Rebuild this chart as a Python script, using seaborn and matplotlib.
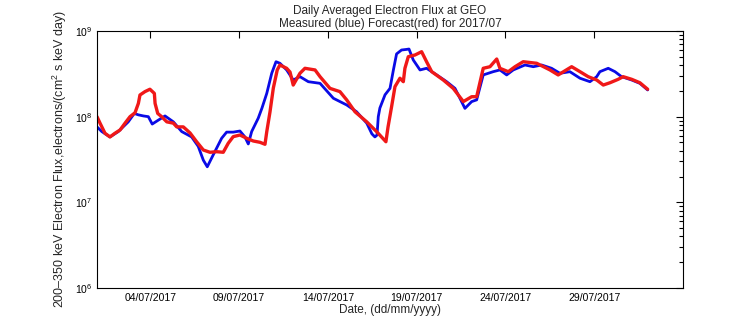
import numpy as np
import pandas as pd
import matplotlib
matplotlib.use("Agg")
import matplotlib.pyplot as plt
import matplotlib.dates as mdates
from matplotlib.ticker import LogLocator, NullFormatter
import seaborn as sns

# ---- data (day of month in July 2017, flux) ----
meas_day = [1.00, 1.27, 1.73, 2.20, 2.76, 3.10, 3.33, 3.61, 3.89, 4.11, 4.45, 4.83, 5.30, 5.77,
            6.33, 6.70, 6.99, 7.21, 7.55, 8.02, 8.30, 8.67, 9.05, 9.33, 9.52, 9.71, 10.08,
            10.29, 10.56, 10.84, 11.08, 11.30, 11.68, 12.05, 12.43, 12.90, 13.56, 14.31,
            15.06, 15.62, 16.19, 16.48, 16.65, 16.77, 16.84, 16.93, 17.22, 17.50, 17.69,
            17.87, 18.15, 18.44, 18.57, 18.81, 19.19, 19.56, 20.13, 20.69, 21.16, 21.72,
            22.10, 22.38, 22.75, 23.31, 23.69, 24.07, 24.44, 25.10, 25.57, 26.04, 26.60,
            27.07, 27.63, 28.20, 28.76, 29.14, 29.32, 29.79, 30.17, 30.54, 31.11, 31.57, 32.01]
meas_flux = [7.6e7, 6.7e7, 5.8e7, 6.7e7, 8.7e7, 1.09e8, 1.05e8, 1.02e8, 1.00e8, 8.2e7, 9.1e7,
             1.02e8, 8.7e7, 6.7e7, 5.8e7, 4.5e7, 3.1e7, 2.6e7, 3.6e7, 5.6e7, 6.6e7, 6.6e7,
             6.8e7, 5.8e7, 4.8e7, 6.7e7, 9.6e7, 1.26e8, 1.87e8, 3.21e8, 4.38e8, 4.20e8,
             3.51e8, 2.68e8, 2.93e8, 2.56e8, 2.45e8, 1.64e8, 1.37e8, 1.14e8, 8.4e7, 6.3e7,
             5.8e7, 6.1e7, 1.0e8, 1.26e8, 1.8e8, 2.14e8, 3.5e8, 5.4e8, 6.0e8, 6.1e8, 6.16e8,
             4.59e8, 3.51e8, 3.67e8, 3.07e8, 2.56e8, 2.14e8, 1.25e8, 1.50e8, 1.57e8, 3.07e8,
             3.35e8, 3.51e8, 3.07e8, 3.51e8, 4.01e8, 3.83e8, 4.01e8, 3.67e8, 3.21e8, 3.35e8,
             2.81e8, 2.56e8, 2.93e8, 3.35e8, 3.67e8, 3.35e8, 2.93e8, 2.68e8, 2.45e8, 2.05e8]

fcst_day = [1.00, 1.17, 1.45, 1.73, 2.01, 2.30, 2.58, 2.86, 3.14, 3.33, 3.42, 3.70, 3.98, 4.23,
            4.27, 4.42, 4.64, 4.93, 5.30, 5.49, 5.86, 6.24, 6.61, 6.99, 7.36, 7.74, 8.11,
            8.39, 8.67, 9.05, 9.43, 9.80, 10.18, 10.46, 10.56, 10.74, 10.93, 11.15, 11.30,
            11.68, 11.87, 12.05, 12.43, 12.71, 13.28, 13.56, 14.12, 14.68, 15.06, 15.53,
            16.19, 16.75, 17.27, 17.39, 17.59, 17.78, 18.06, 18.25, 18.34, 18.53, 18.91,
            19.28, 19.56, 19.85, 20.50, 21.06, 21.63, 22.10, 22.38, 22.75, 23.13, 23.51,
            23.69, 24.16, 24.54, 25.00, 25.76, 26.51, 26.97, 27.73, 28.20, 28.66, 29.14,
            29.51, 29.89, 30.35, 30.63, 31.11, 31.57, 32.01]
fcst_flux = [1.00e8, 8.4e7, 6.4e7, 5.8e7, 6.4e7, 7.0e7, 8.4e7, 1.00e8, 1.11e8, 1.43e8, 1.79e8,
             1.96e8, 2.09e8, 1.87e8, 1.43e8, 1.09e8, 1.00e8, 8.7e7, 8.4e7, 7.6e7, 7.6e7,
             6.45e7, 5.1e7, 4.08e7, 3.84e7, 3.90e7, 3.84e7, 4.89e7, 5.84e7, 6.11e7, 5.59e7,
             5.2e7, 5.02e7, 4.76e7, 6.68e7, 1.13e8, 2.16e8, 3.51e8, 4.01e8, 3.67e8, 3.32e8,
             2.34e8, 3.21e8, 3.67e8, 3.51e8, 2.93e8, 2.14e8, 1.96e8, 1.57e8, 1.14e8, 8.7e7,
             6.68e7, 5.1e7, 7.6e7, 1.31e8, 2.24e8, 2.81e8, 2.56e8, 3.67e8, 5.01e8, 5.25e8,
             5.73e8, 4.38e8, 3.35e8, 2.68e8, 2.14e8, 1.50e8, 1.71e8, 1.71e8, 3.67e8, 3.83e8,
             4.71e8, 3.67e8, 3.35e8, 3.83e8, 4.38e8, 4.20e8, 3.51e8, 3.07e8, 3.83e8, 3.35e8,
             2.93e8, 2.68e8, 2.34e8, 2.49e8, 2.73e8, 2.93e8, 2.73e8, 2.49e8, 2.09e8]

tick_dates = ["2017-07-04", "2017-07-09", "2017-07-14", "2017-07-19", "2017-07-24", "2017-07-29"]
x_start, x_end = "2017-07-01", "2017-08-03"

title_text = "Daily Averaged Electron Flux at GEO\nMeasured (blue) Forecast(red) for 2017/07"
ylabel_text = "200\u2013350 keV Electron Flux,electrons/(cm$^2$ s keV day)"
xlabel_text = "Date, (dd/mm/yyyy)"

base = pd.Timestamp("2017-07-01")
meas = pd.DataFrame({"time": base + pd.to_timedelta(np.array(meas_day) - 1, unit="D"),
                     "flux": meas_flux})
fcst = pd.DataFrame({"time": base + pd.to_timedelta(np.array(fcst_day) - 1, unit="D"),
                     "flux": fcst_flux})

sns.set_style("white")
plt.rcParams["font.family"] = ["Liberation Sans", "DejaVu Sans"]
plt.rcParams["mathtext.fontset"] = "custom"
plt.rcParams["mathtext.rm"] = "Liberation Sans"
plt.rcParams["font.size"] = 8

fig = plt.figure(figsize=(7.56, 3.24), dpi=100)
ax = fig.add_axes([97 / 756, 1 - 288 / 324, 586 / 756, 257 / 324])

sns.lineplot(data=meas, x="time", y="flux", ax=ax, color="#0a0ae6", lw=2.0)
sns.lineplot(data=fcst, x="time", y="flux", ax=ax, color="#f01818", lw=2.4)

ax.set_yscale("log")
ax.set_ylim(1e6, 1e9)
ax.set_xlim(pd.Timestamp(x_start), pd.Timestamp(x_end))
ax.set_xticks([pd.Timestamp(d) for d in tick_dates])
ax.xaxis.set_major_formatter(mdates.DateFormatter("%d/%m/%Y"))
ax.yaxis.set_major_locator(LogLocator(base=10, numticks=10))
ax.yaxis.set_minor_locator(LogLocator(base=10, subs=np.arange(2, 10), numticks=20))
ax.yaxis.set_minor_formatter(NullFormatter())

ax.tick_params(which="both", direction="in", top=True, right=True, colors="black",
               labelsize=7.5)
ax.tick_params(which="major", length=5, width=0.8)
ax.tick_params(which="minor", length=3, width=0.8)
for s in ax.spines.values():
    s.set_color("black")
    s.set_linewidth(0.8)

ax.set_title(title_text, fontsize=8.5, pad=3, linespacing=1.1)
ax.set_ylabel(ylabel_text, fontsize=9, labelpad=4)
ax.set_xlabel(xlabel_text, fontsize=8.5, labelpad=1)

fig.savefig("out.png", dpi=100, facecolor="white")
